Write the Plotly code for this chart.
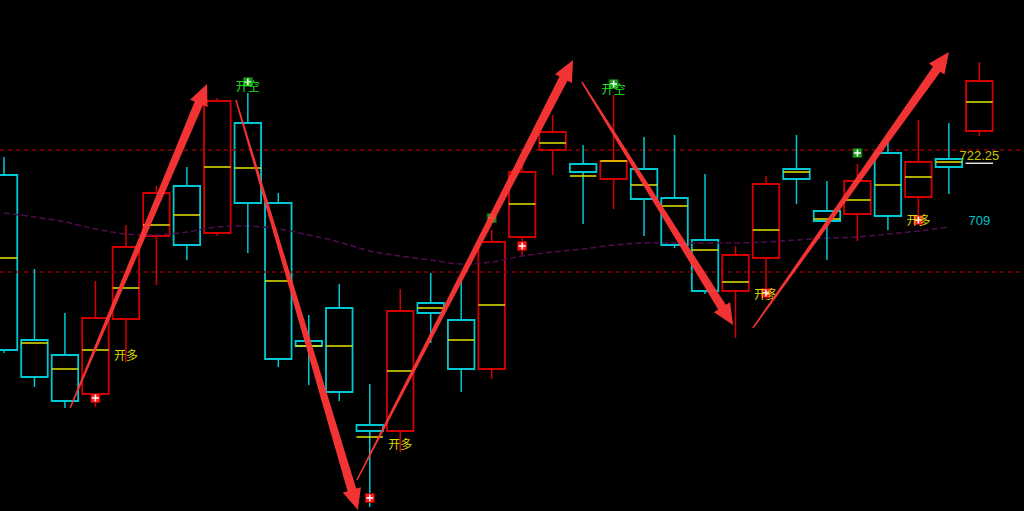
import math
import plotly.graph_objects as go

# ---------------- data ----------------
idx = list(range(33))
opens = [718.6, 685.6, 682.6, 674.8, 689.8, 706.4, 716.4, 707.0, 729.0, 713.0, 685.4, 692.0, 668.6,
         667.4, 693.0, 689.6, 679.8, 706.2, 723.6, 720.8, 717.8, 719.8, 714.0, 705.6, 695.4, 702.0,
         719.8, 711.4, 710.8, 723.0, 714.2, 721.8, 727.4]
closes = [683.6, 678.2, 673.4, 690.0, 704.2, 715.0, 704.6, 733.4, 713.0, 681.8, 684.4, 675.2, 667.4,
          691.4, 691.0, 679.8, 705.2, 719.2, 727.2, 719.2, 721.4, 713.8, 704.6, 695.4, 702.6, 716.8,
          717.8, 709.4, 717.4, 710.4, 721.2, 720.2, 737.4]
highs = [722.2, 699.8, 691.0, 697.4, 708.6, 716.4, 720.2, 734.0, 735.0, 715.0, 690.6, 696.8, 676.8,
         695.8, 699.0, 697.4, 707.6, 720.6, 730.6, 724.6, 734.6, 726.2, 726.6, 718.8, 704.4, 718.4,
         726.6, 717.4, 720.8, 726.2, 729.6, 729.0, 741.2]
lows = [683.0, 676.2, 672.0, 672.2, 681.2, 696.6, 701.6, 706.4, 703.0, 680.2, 676.6, 673.4, 652.2,
        663.2, 685.0, 675.2, 677.8, 702.6, 718.6, 708.8, 711.8, 706.4, 704.0, 694.8, 686.0, 693.6,
        712.8, 701.6, 705.4, 707.6, 709.2, 714.8, 726.4]
mids = [702.0, 685.0, 679.8, 683.6, 696.0, 708.6, 710.6, 720.2, 720.0, 697.4, 684.4, 684.4, 666.2,
        679.4, 692.0, 685.6, 692.6, 712.8, 725.0, 718.4, 721.4, 716.6, 712.4, 703.6, 697.2, 707.6,
        719.2, 709.8, 713.6, 716.6, 718.2, 721.2, 733.2]
ma_vals = [711.0, 710.2, 709.2, 707.8, 706.8, 706.6, 707.2, 708.2, 708.4, 707.8, 706.6, 705.2, 703.4,
           702.4, 701.6, 700.8, 701.2, 702.4, 703.2, 703.8, 704.6, 705.0, 705.0, 705.0, 705.0, 705.2,
           705.6, 706.0, 706.2, 706.8, 707.4, 708.2]
levels = [723.6, 699.2]

buy_idx = [3, 12, 17, 25, 30]
buy_px = [674.0, 654.0, 704.4, 695.0, 709.6]
sell_idx = [8, 16, 20, 28]
sell_px = [737.2, 710.0, 736.8, 723.0]

long_lbl_idx = [4, 13, 25, 30]
long_lbl_px = [682.3, 664.4, 694.4, 709.2]
short_lbl_idx = [8, 20]
short_lbl_px = [736.0, 735.4]

# arrows: (x0, y0, x1, y1) tail -> tip
arrows = [(2.17, 672.0, 6.66, 736.8),
          (7.61, 733.6, 11.61, 651.6),
          (11.58, 657.6, 18.67, 741.6),
          (18.96, 737.2, 23.92, 688.6),
          (24.57, 688.0, 31.0, 743.2)]

last_label = "722.25"
last_price = 722.25
ma_label = "709"
ma_last = 709.2

RED = "#d40000"
CYAN = "#00c8d2"
YELLOW = "#e6e600"

XR = [-0.131, 33.465]
YR = [651.4, 753.6]
W, H = 1024, 511
XS = W / (XR[1] - XR[0])
YS = H / (YR[1] - YR[0])

fig = go.Figure()

# level lines
for lv in levels:
    fig.add_trace(go.Scatter(x=XR, y=[lv, lv], mode="lines",
                             line=dict(color="#8c0000", width=1.3, dash="4px,4px"),
                             hoverinfo="skip"))
# MA line
fig.add_trace(go.Scatter(x=idx[:len(ma_vals)], y=ma_vals, mode="lines",
                         line=dict(color="#4e0c4e", width=1.5, dash="6px,3px", shape="spline"),
                         hoverinfo="skip"))

# candles
for up in (True, False):
    col = RED if up else CYAN
    sel = [i for i in idx if (closes[i] >= opens[i]) == up]
    wx, wy = [], []
    for i in sel:
        top = max(opens[i], closes[i]); bot = min(opens[i], closes[i])
        wx += [i, i, None, i, i, None]
        wy += [highs[i], top, None, bot, lows[i], None]
    fig.add_trace(go.Scatter(x=wx, y=wy, mode="lines", line=dict(color=col, width=1.5),
                             hoverinfo="skip"))
    fig.add_trace(go.Bar(x=sel, base=[min(opens[i], closes[i]) for i in sel],
                         y=[abs(closes[i] - opens[i]) for i in sel], width=0.87,
                         marker=dict(color="rgba(0,0,0,0)", line=dict(color=col, width=1.8)),
                         hoverinfo="skip"))
# midlines
mx, my = [], []
for i in idx:
    mx += [i - 0.435, i + 0.435, None]
    my += [mids[i], mids[i], None]
fig.add_trace(go.Scatter(x=mx, y=my, mode="lines", line=dict(color=YELLOW, width=1.5),
                         hoverinfo="skip"))

# arrows as tapered polygons
def arrow_path(x0, y0, x1, y1, w0=1.5, w1=9.0, hw=19.0, hl=21.0):
    X0, Y0 = x0 * XS, -y0 * YS
    X1, Y1 = x1 * XS, -y1 * YS
    L = math.hypot(X1 - X0, Y1 - Y0)
    dx, dy = (X1 - X0) / L, (Y1 - Y0) / L
    nx, ny = -dy, dx
    bx, by = X1 - dx * hl, Y1 - dy * hl
    pts = [(X0 + nx * w0 / 2, Y0 + ny * w0 / 2),
           (bx + nx * w1 / 2, by + ny * w1 / 2),
           (bx + nx * hw / 2, by + ny * hw / 2),
           (X1, Y1),
           (bx - nx * hw / 2, by - ny * hw / 2),
           (bx - nx * w1 / 2, by - ny * w1 / 2),
           (X0 - nx * w0 / 2, Y0 - ny * w0 / 2)]
    s = "M " + " L ".join(f"{px / XS:.4f},{-py / YS:.4f}" for px, py in pts) + " Z"
    return s

for a in arrows:
    fig.add_shape(type="path", path=arrow_path(*a), xref="x", yref="y",
                  fillcolor="#ff3636", line=dict(width=0), layer="above", opacity=0.95)

# signal markers
fig.add_trace(go.Scatter(x=buy_idx, y=buy_px, mode="markers",
                         marker=dict(symbol="square", size=9, color="#ff1a1a",
                                     line=dict(color="#a00000", width=1)), hoverinfo="skip"))
fig.add_trace(go.Scatter(x=sell_idx, y=sell_px, mode="markers",
                         marker=dict(symbol="square", size=9, color="#1f9a1f",
                                     line=dict(color="#0a5a0a", width=1)), hoverinfo="skip"))
fig.add_trace(go.Scatter(x=buy_idx + sell_idx, y=buy_px + sell_px, mode="markers",
                         marker=dict(symbol="cross-thin", size=5,
                                     line=dict(color="white", width=1.5)), hoverinfo="skip"))

# labels
fig.add_trace(go.Scatter(x=long_lbl_idx, y=long_lbl_px, mode="text", text=["开多"] * len(long_lbl_idx),
                         textfont=dict(family="Noto Sans CJK SC", size=12, color="#d8d800"),
                         hoverinfo="skip"))
fig.add_trace(go.Scatter(x=short_lbl_idx, y=short_lbl_px, mode="text", text=["开空"] * len(short_lbl_idx),
                         textfont=dict(family="Noto Sans CJK SC", size=12, color="#20e020"),
                         hoverinfo="skip"))
fig.add_trace(go.Scatter(x=[idx[-1]], y=[last_price], mode="text", text=[last_label],
                         textfont=dict(family="Liberation Sans", size=13, color="#c8c800"),
                         hoverinfo="skip"))
fig.add_trace(go.Scatter(x=[idx[-1]], y=[ma_last], mode="text", text=[ma_label],
                         textfont=dict(family="Liberation Sans", size=13, color="#00c0c8"),
                         hoverinfo="skip"))
fig.add_shape(type="line", xref="x", yref="y", x0=idx[-1] - 0.45, x1=idx[-1] + 0.45,
              y0=last_price - 1.3, y1=last_price - 1.3, line=dict(color="#ffffff", width=1.3))

fig.update_layout(width=W, height=H, margin=dict(l=0, r=0, t=0, b=0),
                  paper_bgcolor="black", plot_bgcolor="black", showlegend=False,
                  barmode="overlay", hovermode=False,
                  xaxis=dict(range=XR, visible=False, showgrid=False, zeroline=False),
                  yaxis=dict(range=YR, visible=False, showgrid=False, zeroline=False))

fig.write_html("out.html", config={"displayModeBar": False, "staticPlot": True},
               post_script="document.body.style.margin='0';document.body.style.background='black';")
